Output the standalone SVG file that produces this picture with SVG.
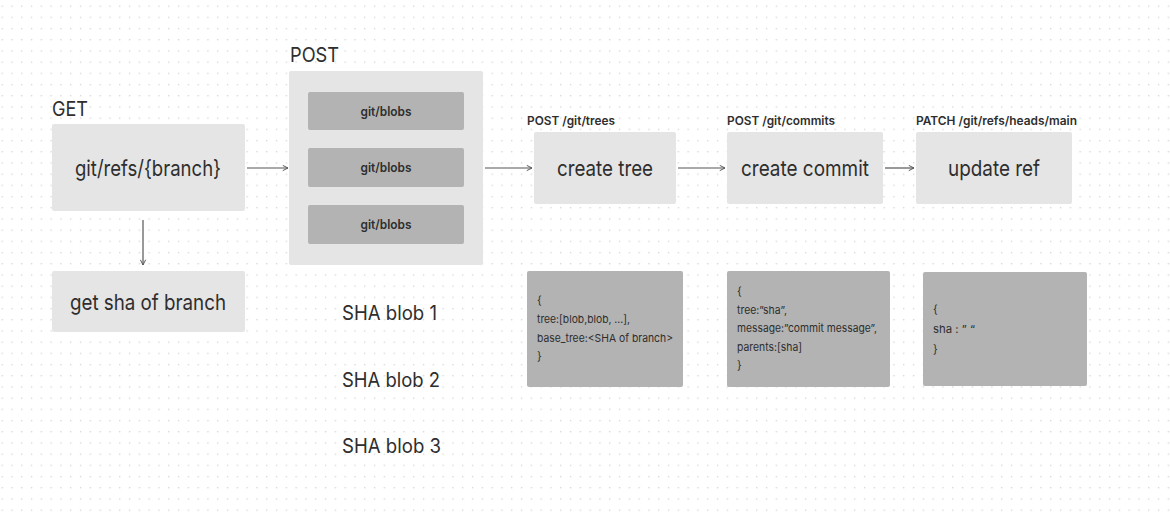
<svg xmlns="http://www.w3.org/2000/svg" width="1170" height="518" viewBox="0 0 1170 518">
  <style>
    text { font-family: Inter, "Open Sans", "Liberation Sans", sans-serif; fill: #2e2e2e; }
    .light { fill: #e5e5e5; }
    .dark { fill: #b3b3b3; }
    .big { font-size: 22px; text-anchor: middle; }
    .head { font-size: 20px; }
    .api { font-size: 12px; font-weight: 600; }
    .blob { font-size: 12.5px; font-weight: 600; text-anchor: middle; }
    .code { font-size: 11px; }
    .conn { stroke: #555; stroke-width: 1.2; fill: none; marker-end: url(#arrow); }
  </style>
  <defs>
    <pattern id="dots" x="1.5" y="5.5" width="9.8" height="11.2" patternUnits="userSpaceOnUse">
      <rect x="0" y="0" width="1.3" height="1.3" fill="#d4d4d4"/>
    </pattern>
    <marker id="arrow" viewBox="0 0 8 8" refX="7" refY="4" markerWidth="7" markerHeight="7" markerUnits="userSpaceOnUse" orient="auto">
      <path d="M1,1 L7,4 L1,7" fill="none" stroke="#555" stroke-width="1.1"/>
    </marker>
  </defs>

  <rect width="1170" height="518" fill="#ffffff"/>
  <rect width="1170" height="518" fill="url(#dots)"/>

  <g id="connectors">
    <line class="conn" x1="247" y1="168" x2="288" y2="168"/>
    <line class="conn" x1="143" y1="220" x2="143" y2="265"/>
    <line class="conn" x1="485" y1="168" x2="532" y2="168"/>
    <line class="conn" x1="678" y1="168" x2="725" y2="168"/>
    <line class="conn" x1="885" y1="168" x2="914" y2="168"/>
  </g>

  <g id="get-refs">
    <text class="head" x="52" y="116" textLength="36" lengthAdjust="spacingAndGlyphs">GET</text>
    <rect class="light" x="52" y="124" width="193" height="87" rx="2"/>
    <text class="big" x="148" y="176" textLength="146" lengthAdjust="spacingAndGlyphs">git/refs/{branch}</text>
  </g>

  <g id="get-sha">
    <rect class="light" x="52" y="271" width="193" height="61" rx="2"/>
    <text class="big" x="148" y="310" textLength="156" lengthAdjust="spacingAndGlyphs">get sha of branch</text>
  </g>

  <g id="post-blobs">
    <text class="head" x="290" y="62" textLength="49" lengthAdjust="spacingAndGlyphs">POST</text>
    <rect class="light" x="289" y="71" width="194" height="194" rx="2"/>
    <rect class="dark" x="308" y="92" width="156" height="38" rx="2"/>
    <text class="blob" x="386" y="116" textLength="51" lengthAdjust="spacingAndGlyphs">git/blobs</text>
    <rect class="dark" x="308" y="148" width="156" height="39" rx="2"/>
    <text class="blob" x="386" y="172" textLength="51" lengthAdjust="spacingAndGlyphs">git/blobs</text>
    <rect class="dark" x="308" y="205" width="156" height="39" rx="2"/>
    <text class="blob" x="386" y="229" textLength="51" lengthAdjust="spacingAndGlyphs">git/blobs</text>
  </g>

  <g id="sha-blobs">
    <text class="head" x="342" y="320" textLength="95" lengthAdjust="spacingAndGlyphs">SHA blob 1</text>
    <text class="head" x="342" y="387" textLength="98" lengthAdjust="spacingAndGlyphs">SHA blob 2</text>
    <text class="head" x="342" y="453" textLength="99" lengthAdjust="spacingAndGlyphs">SHA blob 3</text>
  </g>

  <g id="create-tree">
    <text class="api" x="527" y="125" textLength="88" lengthAdjust="spacingAndGlyphs">POST /git/trees</text>
    <rect class="light" x="534" y="132" width="142" height="72" rx="2"/>
    <text class="big" x="605" y="176" textLength="96" lengthAdjust="spacingAndGlyphs">create tree</text>
  </g>

  <g id="create-commit">
    <text class="api" x="727" y="125" textLength="108" lengthAdjust="spacingAndGlyphs">POST /git/commits</text>
    <rect class="light" x="727" y="132" width="156" height="72" rx="2"/>
    <text class="big" x="805" y="176" textLength="128" lengthAdjust="spacingAndGlyphs">create commit</text>
  </g>

  <g id="update-ref">
    <text class="api" x="916" y="125" textLength="161" lengthAdjust="spacingAndGlyphs">PATCH /git/refs/heads/main</text>
    <rect class="light" x="916" y="132" width="156" height="72" rx="2"/>
    <text class="big" x="994" y="176" textLength="92" lengthAdjust="spacingAndGlyphs">update ref</text>
  </g>

  <g id="tree-body">
    <rect class="dark" x="527" y="271" width="156" height="116" rx="2"/>
    <text class="code" x="537" y="304">{</text>
    <text class="code" x="537" y="323" textLength="93" lengthAdjust="spacingAndGlyphs">tree:[blob,blob, ...],</text>
    <text class="code" x="537" y="342" textLength="136" lengthAdjust="spacingAndGlyphs">base_tree:&lt;SHA of branch&gt;</text>
    <text class="code" x="537" y="360">}</text>
  </g>

  <g id="commit-body">
    <rect class="dark" x="727" y="271" width="163" height="116" rx="2"/>
    <text class="code" x="737" y="295">{</text>
    <text class="code" x="737" y="314" textLength="50" lengthAdjust="spacingAndGlyphs">tree:”sha”,</text>
    <text class="code" x="737" y="332" textLength="140" lengthAdjust="spacingAndGlyphs">message:”commit message”,</text>
    <text class="code" x="737" y="351" textLength="65" lengthAdjust="spacingAndGlyphs">parents:[sha]</text>
    <text class="code" x="737" y="369">}</text>
  </g>

  <g id="ref-body">
    <rect class="dark" x="923" y="272" width="164" height="114" rx="2"/>
    <text class="code" x="933" y="313">{</text>
    <text class="code" x="933" y="333" textLength="42" lengthAdjust="spacingAndGlyphs">sha : ” “</text>
    <text class="code" x="933" y="353">}</text>
  </g>
</svg>
